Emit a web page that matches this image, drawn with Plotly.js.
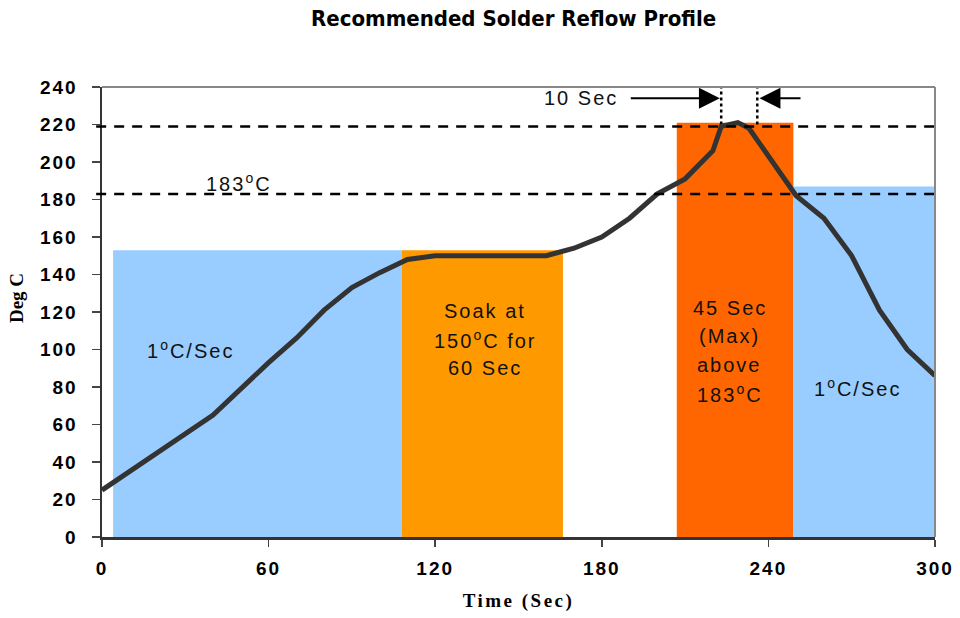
<!DOCTYPE html>
<html>
<head>
<meta charset="utf-8">
<script src="https://cdn.plot.ly/plotly-3.0.1.min.js"></script>
<style>
  body { margin: 0; background: #fff; }
  #chart { width: 960px; height: 618px; }
  .xtick text, .ytick text { letter-spacing: 2px; }
  .annotation-text { letter-spacing: 2px; }
  .g-xtitle text { letter-spacing: 2.5px; }
  .g-ytitle { transform: translate(0px, -14px); }
</style>
</head>
<body>
<div id="chart"></div>
<script>
// reflow profile: time (s) vs temperature (deg C)
var profileTime = [0, 40, 60, 70, 80, 90, 100, 110, 120, 160, 170, 180, 190, 200, 210, 220, 223, 229, 233, 240, 250, 260, 270, 280, 290, 300];
var profileTemp = [25, 65, 93, 106, 121, 133, 141, 148, 150, 150, 154, 160, 170, 183, 191, 206, 219, 221, 218, 203, 182, 170, 150, 121, 100, 86];

// coloured zones behind the curve
var zoneStart = [4, 108, 207, 249];
var zoneEnd = [108, 166, 249, 300];
var zoneTop = [153, 153, 221, 187];

// dashed reference temperatures and the 10 s window at the peak
var refTemps = [183, 219];
var windowTimes = [223, 236];
var xTicks = [0, 60, 120, 180, 240, 300];

window.onload = function () {
    var zoneColors = ['#99CCFF', '#FF9900', '#FF6600', '#99CCFF'];

    var zones = {
        x: zoneStart.map(function (s, i) { return (s + zoneEnd[i]) / 2; }),
        y: zoneTop,
        width: zoneStart.map(function (s, i) { return zoneEnd[i] - s; }),
        type: 'bar',
        marker: { color: zoneColors, line: { width: 0 } },
        hoverinfo: 'skip'
    };

    var data = [zones];

    // dotted vertical lines for the 10 sec window
    windowTimes.forEach(function (t) {
        data.push({
            x: [t, t],
            y: [220, 240],
            mode: 'lines',
            type: 'scatter',
            line: { color: '#000', width: 2.5, dash: 'dot' },
            hoverinfo: 'skip'
        });
    });

    var profile = {
        x: profileTime,
        y: profileTemp,
        mode: 'lines',
        type: 'scatter',
        line: { color: '#333333', width: 5 },
        hoverinfo: 'skip'
    };
    data.push(profile);

    var shapes = refTemps.map(function (v) {
        return {
            type: 'line', xref: 'paper', yref: 'y',
            x0: -0.007, x1: 1, y0: v, y1: v,
            line: { color: '#000', width: 2.5, dash: '10px,8px' },
            layer: 'above'
        };
    });
    // grey frame on top and right
    shapes.push({ type: 'line', xref: 'paper', yref: 'paper', x0: 0, x1: 1, y0: 1, y1: 1,
        line: { color: '#888', width: 2 }, layer: 'above' });
    shapes.push({ type: 'line', xref: 'paper', yref: 'paper', x0: 1, x1: 1, y0: 0, y1: 1,
        line: { color: '#888', width: 2 }, layer: 'above' });

    var txt = { family: 'Liberation Sans, Arial, sans-serif', size: 20, color: '#111' };
    // each label: centre in data units, lines drawn ~15 deg apart (about 28 px)
    var labels = [
        { x: 32, y: 100, lines: ['1<sup>o</sup>C/Sec'] },
        { x: 138, y: 105.5, lines: ['Soak at', '150<sup>o</sup>C for', '60 Sec'] },
        { x: 226, y: 99.5, lines: ['45 Sec', '(Max)', 'above', '183<sup>o</sup>C'] },
        { x: 272, y: 80, lines: ['1<sup>o</sup>C/Sec'] },
        { x: 49.5, y: 189, lines: ['183<sup>o</sup>C'] },
        { x: 172.5, y: 234, lines: ['10 Sec'] }
    ];
    var annotations = [];
    labels.forEach(function (a) {
        var n = a.lines.length;
        a.lines.forEach(function (line, k) {
            annotations.push({
                x: a.x, y: a.y + ((n - 1) / 2 - k) * 15.2,
                xref: 'x', yref: 'y', text: line, showarrow: false, font: txt
            });
        });
    });

    // arrows pointing at the 10 sec window
    annotations.push({ x: windowTimes[0] - 0.5, y: 234, ax: 189, ay: 234, axref: 'x', ayref: 'y',
        xref: 'x', yref: 'y', text: ' ', showarrow: true, arrowhead: 2, arrowsize: 1.9,
        arrowwidth: 2.2, arrowcolor: '#000', standoff: 0 });
    annotations.push({ x: windowTimes[1] + 0.8, y: 234, ax: 253, ay: 234, axref: 'x', ayref: 'y',
        xref: 'x', yref: 'y', text: ' ', showarrow: true, arrowhead: 2, arrowsize: 1.9,
        arrowwidth: 2.2, arrowcolor: '#000', standoff: 0 });

    var layout = {
        width: 960,
        height: 618,
        paper_bgcolor: '#fff',
        plot_bgcolor: '#fff',
        showlegend: false,
        barmode: 'overlay',
        margin: { l: 102, r: 25, t: 87, b: 81 },
        title: {
            text: 'Recommended Solder Reflow Profile',
            font: { family: 'DejaVu Sans Condensed, Liberation Sans Narrow, sans-serif', size: 22, color: '#000', weight: 'bold' },
            x: 0.535, xanchor: 'center',
            y: 0.97, yanchor: 'middle'
        },
        xaxis: {
            range: [0, 300],
            tickvals: xTicks,
            ticktext: xTicks.map(String),
            ticks: 'outside', ticklen: 7, tickwidth: 1.5, tickcolor: '#444',
            showline: true, linecolor: '#333', linewidth: 2.5,
            showgrid: false, zeroline: false,
            ticklabelstandoff: 6,
            tickfont: { family: 'Liberation Sans, Arial, sans-serif', size: 19, color: '#000', weight: 'bold' },
            title: {
                text: 'Time (Sec)',
                font: { family: 'Liberation Serif, Times New Roman, serif', size: 19, color: '#000', weight: 'bold' },
                standoff: 16
            },
            fixedrange: true
        },
        yaxis: {
            range: [0, 240],
            dtick: 20,
            ticks: 'outside', ticklen: 8, tickwidth: 1.5, tickcolor: '#444',
            showline: true, linecolor: '#333', linewidth: 2.5,
            showgrid: false, zeroline: false,
            ticklabelstandoff: 10,
            tickfont: { family: 'Liberation Sans, Arial, sans-serif', size: 19, color: '#000', weight: 'bold' },
            title: {
                text: 'Deg C',
                font: { family: 'Liberation Serif, Times New Roman, serif', size: 19, color: '#000', weight: 'bold' },
                standoff: 12
            },
            fixedrange: true
        },
        shapes: shapes,
        annotations: annotations
    };

    Plotly.newPlot('chart', data, layout, { displayModeBar: false, staticPlot: true });
};
</script>
</body>
</html>
